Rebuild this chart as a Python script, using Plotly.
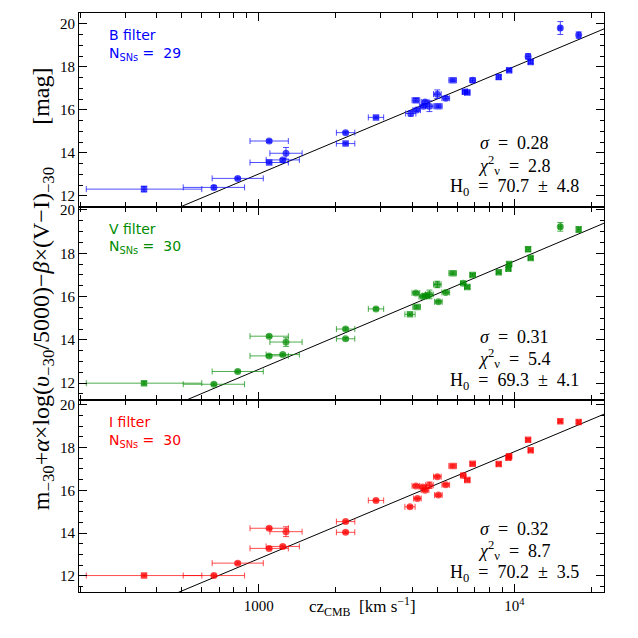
import numpy as np
import plotly.graph_objects as go

# --- data (cz in km/s, x errors in dex, mags) ---
cz_B = [356, 668, 828, 1099, 1279, 1099, 1242, 2188, 2188, 2877,
        3936, 4150, 4121, 4406, 4477, 4656, 5000, 5047, 5395, 5741,
        6412, 6546, 6871, 8690, 9550, 11324, 11588, 15136, 17865]
mag_B = [12.31, 12.39, 12.81, 14.55, 13.98, 13.55, 13.67, 14.94, 14.43, 15.65,
         15.83, 15.99, 16.45, 16.17, 16.37, 16.17, 16.73, 16.17, 16.54, 17.38,
         16.84, 16.81, 17.38, 17.53, 17.84, 18.49, 18.23, 19.81, 19.48]
dex_B = [0.226, 0.12, 0.10, 0.075, 0.063, 0.075, 0.065, 0.036, 0.036, 0.03,
         0.02, 0.015, 0.015, 0.015, 0.015, 0.015, 0.015, 0.015, 0.015, 0.015,
         0.01, 0.01, 0.01, 0.008, 0.008, 0.008, 0.008, 0.006, 0.006]
yerr_B = [0.13, 0.08, 0.06, 0.06, 0.27, 0.06, 0.06, 0.06, 0.06, 0.06,
          0.12, 0.06, 0.08, 0.06, 0.08, 0.25, 0.2, 0.06, 0.08, 0.06,
          0.06, 0.06, 0.1, 0.1, 0.06, 0.12, 0.08, 0.3, 0.15]
sym_B = ["s", "o", "o", "o", "o", "s", "o", "o", "s", "s",
         "o", "o", "s", "o", "o", "o", "o", "s", "o", "s",
         "s", "s", "o", "s", "s", "o", "s", "o", "o"]

cz_V = [356, 668, 828, 1099, 1279, 1099, 1242, 2188, 2188, 2877,
        3908, 4150, 4121, 4385, 4519, 4656, 5000, 5047, 5395, 5741,
        6310, 6546, 6871, 8690, 9484, 9550, 11324, 11588, 15136, 17865]
mag_V = [12.00, 11.95, 12.54, 14.17, 13.90, 13.26, 13.32, 14.50, 14.05, 15.43,
         15.18, 15.52, 16.17, 16.00, 16.05, 16.10, 16.56, 15.76, 16.19, 17.08,
         16.62, 16.44, 17.00, 17.12, 17.28, 17.50, 18.19, 17.78, 19.22, 19.10]
dex_V = [0.226, 0.12, 0.10, 0.075, 0.063, 0.075, 0.065, 0.036, 0.036, 0.03,
         0.02, 0.015, 0.015, 0.015, 0.015, 0.015, 0.015, 0.015, 0.015, 0.015,
         0.01, 0.01, 0.01, 0.008, 0.008, 0.008, 0.008, 0.008, 0.006, 0.006]
yerr_V = [0.08, 0.06, 0.06, 0.06, 0.2, 0.06, 0.06, 0.06, 0.06, 0.06,
          0.06, 0.06, 0.06, 0.06, 0.06, 0.2, 0.15, 0.06, 0.06, 0.06,
          0.06, 0.06, 0.06, 0.06, 0.06, 0.06, 0.1, 0.06, 0.2, 0.12]
sym_V = ["s", "o", "o", "o", "o", "o", "o", "o", "o", "o",
         "s", "s", "o", "o", "o", "o", "o", "o", "o", "s",
         "o", "s", "s", "s", "s", "s", "s", "s", "o", "s"]

cz_I = [356, 668, 828, 1099, 1279, 1099, 1242, 2188, 2188, 2877,
        3908, 4178, 4121, 4385, 4477, 4656, 5000, 5047, 5395, 5741,
        6310, 6546, 6871, 8690, 9484, 9550, 11324, 11588, 15136, 17865]
mag_I = [12.02, 12.02, 12.60, 14.23, 14.07, 13.29, 13.38, 14.54, 14.04, 15.53,
         15.23, 15.62, 16.21, 16.16, 16.01, 16.24, 16.64, 15.78, 16.26, 17.14,
         16.70, 16.49, 17.24, 17.23, 17.52, 17.59, 18.36, 17.87, 19.23, 19.19]
dex_I = dex_V
yerr_I = [0.06, 0.06, 0.06, 0.06, 0.23, 0.06, 0.06, 0.06, 0.06, 0.06,
          0.06, 0.06, 0.06, 0.06, 0.06, 0.15, 0.06, 0.06, 0.06, 0.06,
          0.06, 0.06, 0.06, 0.06, 0.06, 0.06, 0.06, 0.06, 0.06, 0.06]
sym_I = ["s", "o", "o", "o", "o", "o", "o", "o", "o", "o",
         "o", "o", "o", "o", "o", "o", "o", "o", "o", "s",
         "o", "s", "s", "s", "s", "s", "s", "s", "s", "s"]

filters = ["B", "V", "I"]
colors = ["#0000ff", "#008c00", "#ff0000"]
bar_colors = ["rgba(0,0,255,0.7)", "rgba(0,140,0,0.7)", "rgba(255,0,0,0.7)"]
n_sns = [29, 30, 30]
sigma = [0.28, 0.31, 0.32]
chi2 = [2.8, 5.4, 8.7]
h0 = [70.7, 69.3, 70.2]
h0_err = [4.8, 4.1, 3.5]
zero_pt = [-1.985, -2.365, -2.195]   # fitted line: m = 5 log cz + zp
y_ranges = [[11.49, 20.51], [11.2, 20.15], [11.24, 20.2]]

data = [(cz_B, mag_B, dex_B, yerr_B, sym_B),
        (cz_V, mag_V, dex_V, yerr_V, sym_V),
        (cz_I, mag_I, dex_I, yerr_I, sym_I)]

# the page body adds an 8px margin, so the figure is 622 px and positions
# below are given in page pixels and shifted by OFF
W = H = 622
OFF = 8


def px(v):
    return (v - OFF) / W


def py(v):
    return 1 - (v - OFF) / H


x_dom = [px(79), px(604)]
edges = [9, 204, 399, 592]
x_range = [2.297, 4.351]

fig = go.Figure()
serif = "Liberation Serif"
NB = "\u00a0"

for i, (cz, mag, dex, yerr, sym) in enumerate(data):
    n = i + 1
    xa = "x" if n == 1 else f"x{n}"
    ya = "y" if n == 1 else f"y{n}"
    cz = np.array(cz, dtype=float)
    dex = np.array(dex)
    plus = cz * (10 ** dex - 1)
    minus = cz * (1 - 10 ** -dex)

    # fitted Hubble line
    xl = np.logspace(x_range[0], x_range[1], 50)
    fig.add_trace(go.Scatter(x=xl, y=5 * np.log10(xl) + zero_pt[i], mode="lines",
                             line=dict(color="black", width=1), xaxis=xa, yaxis=ya,
                             showlegend=False, hoverinfo="skip"))

    fig.add_trace(go.Scatter(
        x=cz, y=mag, mode="markers", xaxis=xa, yaxis=ya, showlegend=False,
        marker=dict(color=colors[i], size=[7 if s == "o" else 6.5 for s in sym],
                    symbol=["circle" if s == "o" else "square" for s in sym], line=dict(width=0)),
        error_x=dict(type="data", symmetric=False, array=plus, arrayminus=minus,
                     color=bar_colors[i], thickness=1, width=3),
        error_y=dict(type="data", array=yerr, color=bar_colors[i], thickness=1, width=3),
    ))

    top, bot = edges[i], edges[i + 1]
    axis_common = dict(showline=True, linecolor="black", linewidth=1, mirror="allticks",
                       ticks="inside", tickcolor="black", showgrid=False, zeroline=False,
                       tickfont=dict(family=serif, size=15, color="black"))
    fig.layout[xa.replace("x", "xaxis")] = dict(
        axis_common, domain=x_dom, type="log", range=x_range, anchor=ya,
        tickmode="array", tickvals=[1000, 10000], ticktext=["1000", "10<sup>4</sup>"],
        ticklen=8, showticklabels=(n == 3),
        minor=dict(tickmode="array",
                   tickvals=[200, 300, 400, 500, 600, 700, 800, 900,
                             2000, 3000, 4000, 5000, 6000, 7000, 8000, 9000, 20000],
                   ticks="inside", ticklen=5, tickcolor="black"))
    fig.layout[ya.replace("y", "yaxis")] = dict(
        axis_common, domain=[py(bot), py(top)], range=y_ranges[i], anchor=xa,
        tickmode="array", tickvals=[12, 14, 16, 18, 20], ticklen=8,
        minor=dict(dtick=0.5, ticks="inside", ticklen=4, tickcolor="black"))

    # filter labels
    fig.add_annotation(xref="paper", yref="paper", x=px(107), y=py(top + 22),
                       text=f"{filters[i]}{NB}filter", showarrow=False, xanchor="left",
                       yanchor="middle", font=dict(family="DejaVu Sans", size=14, color=colors[i]))
    fig.add_annotation(xref="paper", yref="paper", x=px(107), y=py(top + 41),
                       text=f"N<sub>SNs</sub>{NB}={NB}{NB}{n_sns[i]}", showarrow=False,
                       xanchor="left", yanchor="middle",
                       font=dict(family="DejaVu Sans", size=14, color=colors[i]))
    # fit statistics
    eq = f"{NB}{NB}={NB}{NB}"
    stats = [f"<i>σ</i>{eq}{sigma[i]:.2f}",
             f"<i>χ</i><sup>2</sup><sub>ν</sub>{eq}{chi2[i]:.1f}",
             f"H<sub>0</sub>{eq}{h0[i]:.1f}{NB}{NB}±{NB}{NB}{h0_err[i]:.1f}"]
    for txt, off in zip(stats, [64, 42, 19]):
        fig.add_annotation(xref="paper", yref="paper", x=px(514), y=py(bot - off),
                           text=txt, showarrow=False, xanchor="center", yanchor="middle",
                           font=dict(family=serif, size=18, color="black"))

fig.add_annotation(xref="paper", yref="paper", x=px(26), y=py(287), textangle=-90,
                   text="m<sub>−30</sub>+<i>α</i>×log(<i>υ</i><sub>−30</sub>/5000)−<i>β</i>×(V−I)<sub>−30</sub>"
                        + NB * 7 + "[mag]",
                   showarrow=False, font=dict(family=serif, size=24, color="black"))
fig.add_annotation(xref="paper", yref="paper", x=px(362), y=py(621),
                   text=f"cz<sub>CMB</sub>{NB}{NB}[km{NB}s<sup>−1</sup>]", showarrow=False,
                   font=dict(family=serif, size=17, color="black"))

fig.update_layout(width=W, height=H, margin=dict(l=0, r=0, t=0, b=0),
                  paper_bgcolor="white", plot_bgcolor="white")

fig.write_html("out.html")
